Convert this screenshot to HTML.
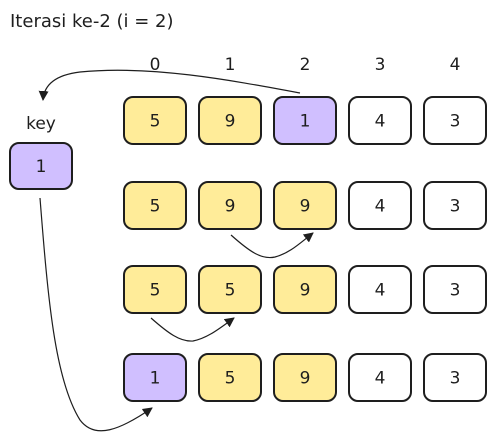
<!DOCTYPE html>
<html><head><meta charset="utf-8"><style>
html,body{margin:0;padding:0;background:#fff}
svg{display:block}
text{font-family:"Comic Sans MS","DejaVu Sans","Liberation Sans",sans-serif;fill:#1e1e1e}
</style></head><body>
<svg width="497" height="443" viewBox="0 0 497 443" xmlns="http://www.w3.org/2000/svg">
<defs>
<marker id="ah" viewBox="0 0 10 10" refX="9" refY="5" markerWidth="10" markerHeight="10" orient="auto-start-reverse" markerUnits="userSpaceOnUse">
<path d="M0,0 L10,5 L0,10 z" fill="#1e1e1e"/>
</marker>
</defs>
<text x="10" y="27" font-size="18">Iterasi ke-2 (i = 2)</text>
<g font-size="17" text-anchor="middle">
<text x="155" y="70">0</text><text x="230" y="70">1</text><text x="305" y="70">2</text><text x="380" y="70">3</text><text x="455" y="70">4</text>
</g>
<text x="41" y="129" font-size="17" text-anchor="middle">key</text>
<g id="boxes" stroke="#1e1e1e" stroke-width="2" font-size="17" text-anchor="middle"></g>
<g fill="none" stroke="#1e1e1e" stroke-width="1.2">
<path d="M300,93 C230,80 150,65 80,72 C55,75 44,85 43,100" marker-end="url(#ah)"/>
<path d="M40,198 C48,300 55,380 80,420 C95,440 120,430 152,408" marker-end="url(#ah)"/>
<path d="M231,235 C250,252 262,260 275,257 C290,253 300,243 313,233" marker-end="url(#ah)"/>
<path d="M151,318 C168,333 180,342 193,341 C208,338 220,328 234,318" marker-end="url(#ah)"/>
</g>
</svg>
<script>
const rowsY=[97,182,266,354];
const colsX=[124,199,274,349,424];
const rowVals=[[5,9,1,4,3],[5,9,9,4,3],[5,5,9,4,3],[1,5,9,4,3]];
const rowColors=[["y","y","p","w","w"],["y","y","y","w","w"],["y","y","y","w","w"],["p","y","y","w","w"]];
const fills={y:"#ffec99",p:"#d0bfff",w:"#ffffff"};
const g=document.getElementById('boxes');
const NS="http://www.w3.org/2000/svg";
function box(x,y,w,h,fill,val,name){
  const gr=document.createElementNS(NS,'g');
  
  
  const r=document.createElementNS(NS,'rect');
  r.setAttribute('x',x);r.setAttribute('y',y);r.setAttribute('width',w);r.setAttribute('height',h);
  r.setAttribute('rx',9);r.setAttribute('fill',fill);
  const t=document.createElementNS(NS,'text');
  t.setAttribute('x',x+w/2);t.setAttribute('y',y+h/2+6);t.setAttribute('stroke','none');
  t.textContent=val;
  gr.appendChild(r);gr.appendChild(t);g.appendChild(gr);
}
rowVals.forEach((row,ri)=>row.forEach((v,ci)=>{
  box(colsX[ci],rowsY[ri],62,47,fills[rowColors[ri][ci]],v,'cell-r'+(ri+1)+'-c'+ci);
}));
box(10,143,62,46,fills.p,1,'key-box');
</script>
</body></html>
